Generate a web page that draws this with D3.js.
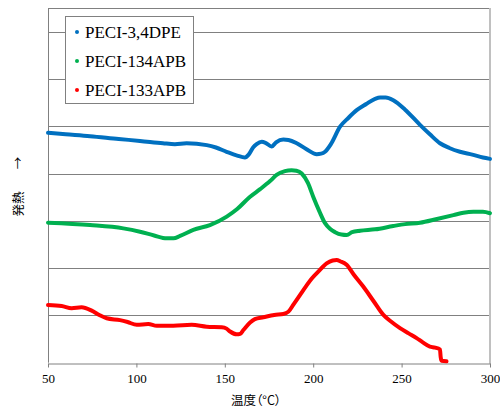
<!DOCTYPE html>
<html>
<head>
<meta charset="utf-8">
<style>
body { margin: 0; background: #fff; }
</style>
</head>
<body>
<svg width="500" height="408"></svg>
<script src="https://d3js.org/d3.v7.min.js"></script>
<script>

// temperature ticks (°C)
var xTicks = [50, 100, 150, 200, 250, 300];

// series names
var names = ["PECI-3,4DPE", "PECI-134APB", "PECI-133APB"];

// [temperature, heat flow (grid units)]
var dpe = [[50,4.86],[60,4.83],[73.8,4.79],[90,4.73],[102,4.69],[115,4.64],[121.8,4.62],[128.4,4.64],
  [139.8,4.60],[145,4.55],[151,4.46],[157,4.38],[161.4,4.34],[163.5,4.40],[166,4.55],[168,4.62],
  [170.9,4.67],[173,4.65],[176.5,4.57],[179,4.66],[183.1,4.72],[186,4.71],[190.7,4.64],[196,4.52],
  [202,4.41],[204.5,4.42],[206.7,4.46],[210,4.62],[215.2,4.99],[220,5.18],[224.6,5.34],[230,5.47],
  [235,5.58],[237.8,5.61],[241,5.61],[245.3,5.55],[252,5.35],[260.4,5.03],[266,4.83],[271.7,4.64],
  [277,4.54],[283,4.46],[290,4.40],[296,4.34],[300,4.31]];

var apb134 = [[50,2.96],[73.8,2.91],[92.6,2.84],[102,2.77],[110,2.69],[117.1,2.63],[121,2.63],[124.7,2.68],
  [132.2,2.81],[141.6,2.91],[151.1,3.09],[157,3.25],[164.3,3.51],[170,3.67],[175.6,3.84],[179.3,3.97],
  [184,4.05],[187.8,4.07],[190.5,4.06],[193.5,4.00],[197,3.80],[200,3.51],[203.5,3.20],[206.7,2.95],
  [209.5,2.83],[212.4,2.76],[216,2.71],[219,2.70],[222,2.76],[226.5,2.79],[235,2.82],[245.3,2.89],
  [252,2.93],[260.4,2.96],[270,3.04],[279.3,3.12],[285,3.17],[290.6,3.19],[296,3.19],[300,3.16]];

var apb133 = [[50,1.22],[57.7,1.20],[63.4,1.15],[69,1.17],[74.7,1.10],[79,1.01],[83.2,0.94],[90.7,0.90],
  [95,0.86],[100.2,0.80],[106.7,0.82],[111.5,0.78],[120.9,0.78],[131.3,0.80],[139.8,0.76],[148.3,0.75],
  [151,0.72],[153,0.66],[156.7,0.60],[158.7,0.61],[160.5,0.69],[164.3,0.85],[167,0.92],[171.8,0.96],
  [178,1.01],[183.1,1.03],[186,1.08],[189,1.24],[192.5,1.43],[196,1.62],[199.2,1.78],[203,1.93],
  [207.6,2.10],[211,2.16],[213.3,2.17],[215.5,2.14],[218.9,2.07],[223,1.86],[228.3,1.61],[234,1.31],
  [239.7,1.01],[244,0.87],[249.1,0.73],[254,0.62],[258.5,0.52],[262,0.43],[266,0.34],[269,0.32],
  [271.7,0.28],[272.1,0.12],[272.6,0.04],[275.4,0.03]];

var series = [dpe, apb134, apb133];
var colors = ["#0070c0", "#00b050", "#ff0000"];

var svg = d3.select("svg"),
    m = {left: 48, right: 490, top: 8, bottom: 362.7};

var x = d3.scaleLinear().domain([50, 300]).range([m.left, m.right]);
var y = d3.scaleLinear().domain([0, 7.5]).range([m.bottom, m.top]);

function crisp(v) { return Math.round(v) + 0.5; }

// horizontal grid lines
svg.append("g")
  .selectAll("line")
  .data(d3.range(1, 8))
  .enter().append("line")
    .attr("x1", m.left).attr("x2", m.right)
    .attr("y1", function(d) { return crisp(y(d)); })
    .attr("y2", function(d) { return crisp(y(d)); })
    .attr("stroke", "#808080");

// frame: top, left, right
svg.append("line")
    .attr("x1", m.left).attr("x2", m.right)
    .attr("y1", crisp(m.top)).attr("y2", crisp(m.top))
    .attr("stroke", "#808080");
svg.append("line")
    .attr("x1", crisp(m.left)).attr("x2", crisp(m.left))
    .attr("y1", m.top).attr("y2", m.bottom)
    .attr("stroke", "#808080");
svg.append("line")
    .attr("x1", m.right).attr("x2", m.right)
    .attr("y1", m.top).attr("y2", m.bottom + 1)
    .attr("stroke", "#c0c0c0")
    .attr("stroke-width", 2);

// x axis
var xAxis = svg.append("g")
    .attr("transform", "translate(0," + crisp(m.bottom) + ")")
    .call(d3.axisBottom(x).tickValues(xTicks).tickSize(4).tickSizeOuter(0).tickPadding(6));
xAxis.select(".domain").attr("stroke", "#808080");
xAxis.selectAll(".tick line").attr("stroke", "#808080");
xAxis.selectAll(".tick text")
    .attr("fill", "#000")
    .attr("font-family", "'Liberation Serif', 'Times New Roman', serif")
    .attr("font-size", 13);

// curves
var line = d3.line()
    .x(function(d) { return x(d[0]); })
    .y(function(d) { return y(d[1]); })
    .curve(d3.curveMonotoneX);

svg.append("g")
  .selectAll("path")
  .data(series)
  .enter().append("path")
    .attr("d", line)
    .attr("fill", "none")
    .attr("stroke", function(d, i) { return colors[i]; })
    .attr("stroke-width", 4)
    .attr("stroke-linejoin", "round")
    .attr("stroke-linecap", "round");

// legend
var legend = svg.append("g");
legend.append("rect")
    .attr("x", 65.5).attr("y", 16.5)
    .attr("width", 128).attr("height", 87)
    .attr("fill", "#fff")
    .attr("stroke", "#808080");

var item = legend.selectAll(".item")
  .data(names)
  .enter().append("g")
    .attr("class", "item")
    .attr("transform", function(d, i) { return "translate(0," + (32 + i * 29) + ")"; });
item.append("circle")
    .attr("cx", 77).attr("cy", 0).attr("r", 2)
    .attr("fill", function(d, i) { return colors[i]; });
item.append("text")
    .attr("x", 85).attr("y", 5.8)
    .attr("font-family", "'Liberation Serif', 'Times New Roman', serif")
    .attr("font-size", 17)
    .text(function(d) { return d; });

// axis titles
svg.append("text")
    .attr("x", 231).attr("y", 405)
    .attr("font-family", "'Noto Sans CJK JP', sans-serif")
    .attr("font-size", 12.5)
    .style("font-feature-settings", "'palt'")
    .text("温度（°C）");

svg.append("text")
    .attr("transform", "translate(23,204) rotate(-90)")
    .attr("text-anchor", "middle")
    .attr("font-family", "'Noto Sans CJK JP', sans-serif")
    .attr("font-size", 12.5)
    .text("発熱");
svg.append("text")
    .attr("transform", "translate(23,163) rotate(-90)")
    .attr("text-anchor", "middle")
    .attr("font-family", "'Noto Sans CJK JP', sans-serif")
    .attr("font-size", 12.5)
    .text("→");

</script>
</body>
</html>
